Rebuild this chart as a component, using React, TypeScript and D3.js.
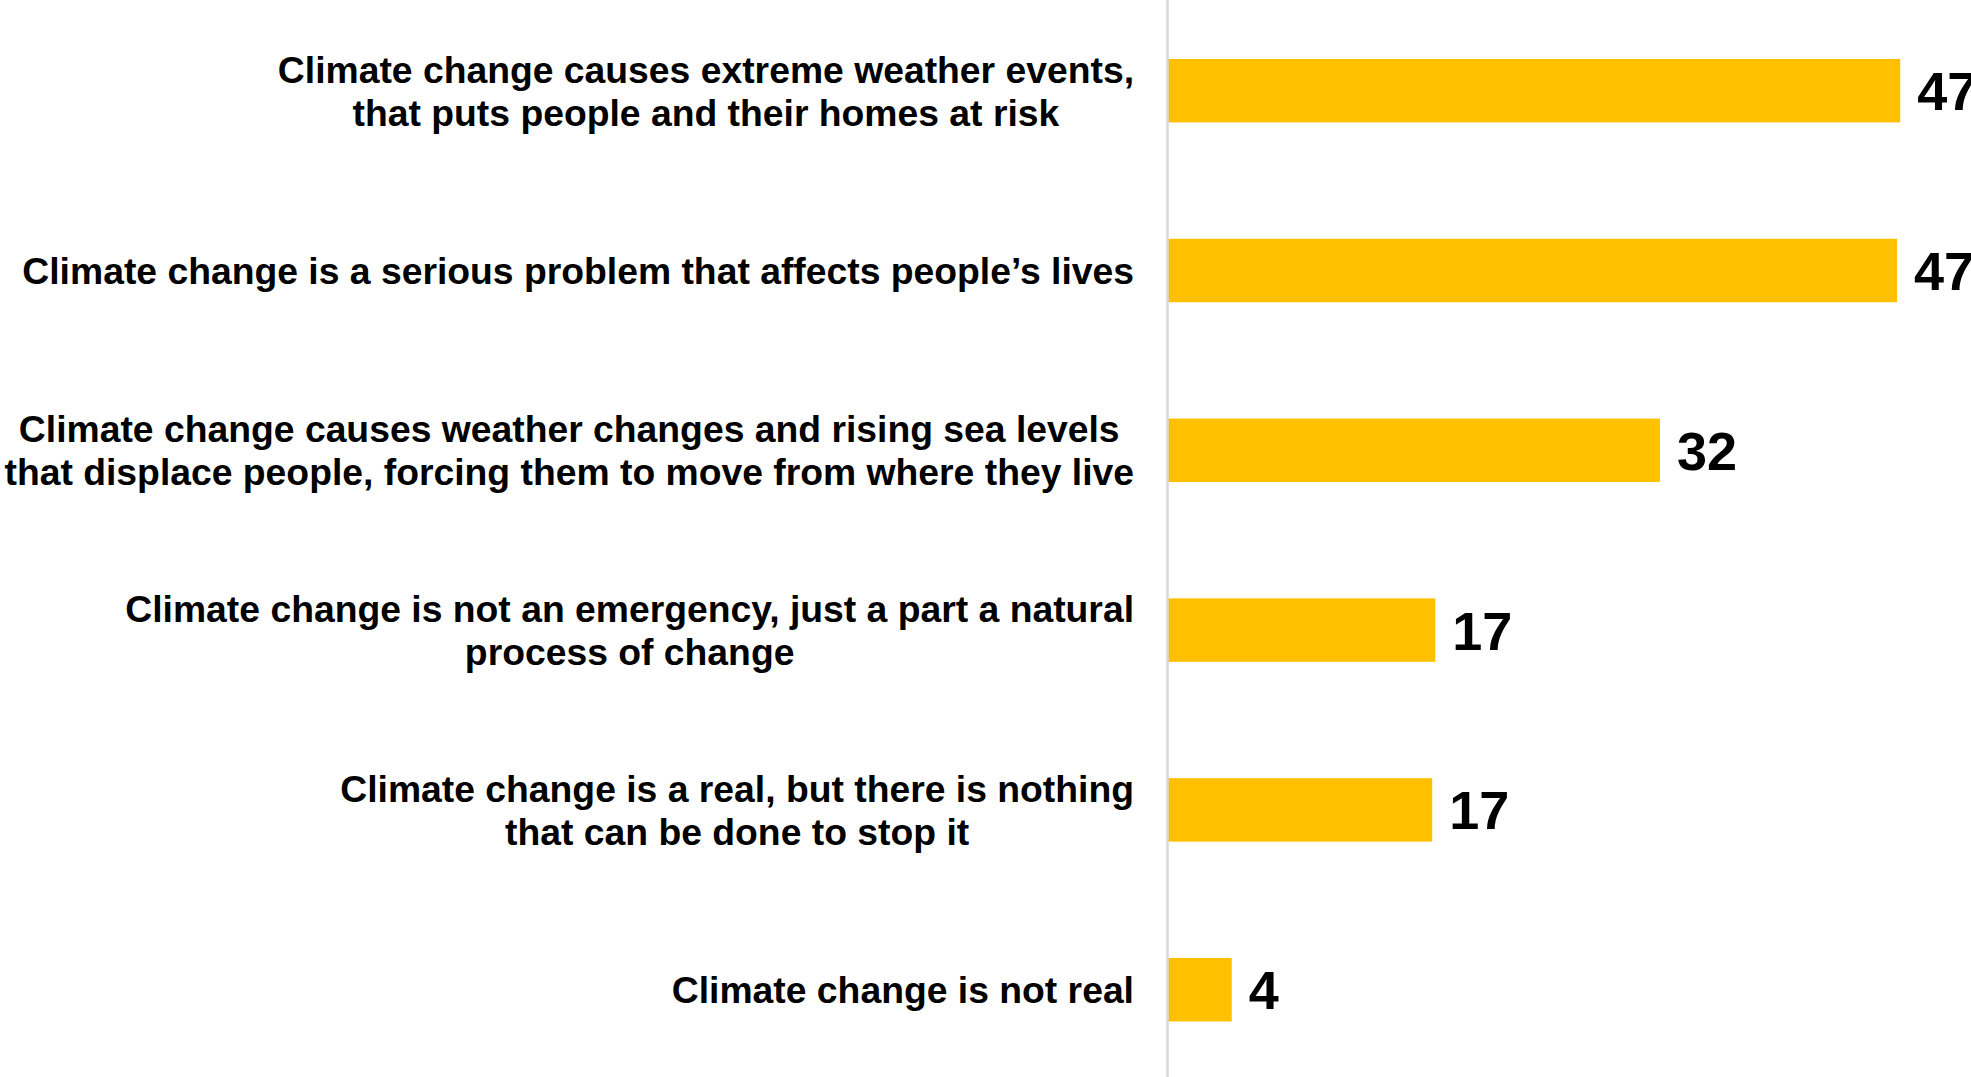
import React, { useEffect, useRef } from "react";
import * as d3 from "d3";

const categories: string[][] = [
  ["Climate change causes extreme weather events,", "that puts people and their homes at risk"],
  ["Climate change is a serious problem that affects people’s lives"],
  ["Climate change causes weather changes and rising sea levels", "that displace people, forcing them to move from where they live"],
  ["Climate change is not an emergency, just a part a natural", "process of change"],
  ["Climate change is a real, but there is nothing", "that can be done to stop it"],
  ["Climate change is not real"],
];
const values: number[] = [47.0, 46.8, 31.6, 17.2, 17.0, 4.15];
const valueLabels: string[] = ["47", "47", "32", "17", "17", "4"];

const W = 1971;
const H = 1077;

export default function App() {
  const ref = useRef<SVGSVGElement | null>(null);

  useEffect(() => {
    const svg = d3.select(ref.current);
    svg.selectAll("*").remove();

    const x0 = 1167;
    const x = d3.scaleLinear().domain([0, 50]).range([x0, x0 + 780]);
    const ids = categories.map((_, i) => String(i));
    const y = d3
      .scaleBand<string>()
      .domain(ids)
      .range([0.8, 1079.6])
      .paddingInner(0.647)
      .paddingOuter(0.3235);

    const font = "'Liberation Sans', Arial, sans-serif";

    // bars
    svg
      .append("g")
      .selectAll("rect")
      .data(values)
      .join("rect")
      .attr("x", x(0))
      .attr("y", (_, i) => y(ids[i]) as number)
      .attr("width", (d) => x(d) - x(0))
      .attr("height", y.bandwidth())
      .attr("fill", "#FFC000");

    // axis line
    svg
      .append("line")
      .attr("x1", x(0) + 0.5)
      .attr("x2", x(0) + 0.5)
      .attr("y1", 0)
      .attr("y2", H)
      .attr("stroke", "#D9D9D9")
      .attr("stroke-width", 2.5);

    // value labels
    svg
      .append("g")
      .selectAll("text")
      .data(values)
      .join("text")
      .attr("x", (d) => x(d) + 17)
      .attr("y", (_, i) => (y(ids[i]) as number) + y.bandwidth() / 2 + 19.5)
      .attr("font-family", font)
      .attr("font-weight", "bold")
      .attr("font-size", 54)
      .attr("fill", "#000")
      .text((_, i) => valueLabels[i]);

    // category labels (centered lines, block right-aligned)
    const rightEdge = 1134;
    const lineH = 43;
    const fs = 37.3;
    const lg = svg.append("g");
    categories.forEach((lines, i) => {
      const cy = (y(ids[i]) as number) + y.bandwidth() / 2;
      const texts = lines.map((ln, j) =>
        lg
          .append("text")
          .attr("font-family", font)
          .attr("font-weight", "bold")
          .attr("font-size", fs)
          .attr("fill", "#000")
          .attr("text-anchor", "middle")
          .attr("y", cy + (j - (lines.length - 1) / 2) * lineH + fs * 0.358)
          .text(ln)
      );
      const widths = texts.map((t) => (t.node() as SVGTextElement).getComputedTextLength());
      const maxW = Math.max(...widths);
      texts.forEach((t) => t.attr("x", rightEdge - maxW / 2));
    });
  }, []);

  return (
    <svg
      ref={ref}
      width={W}
      height={H}
      style={{ position: "absolute", left: 0, top: 0, background: "#fff" }}
    />
  );
}
